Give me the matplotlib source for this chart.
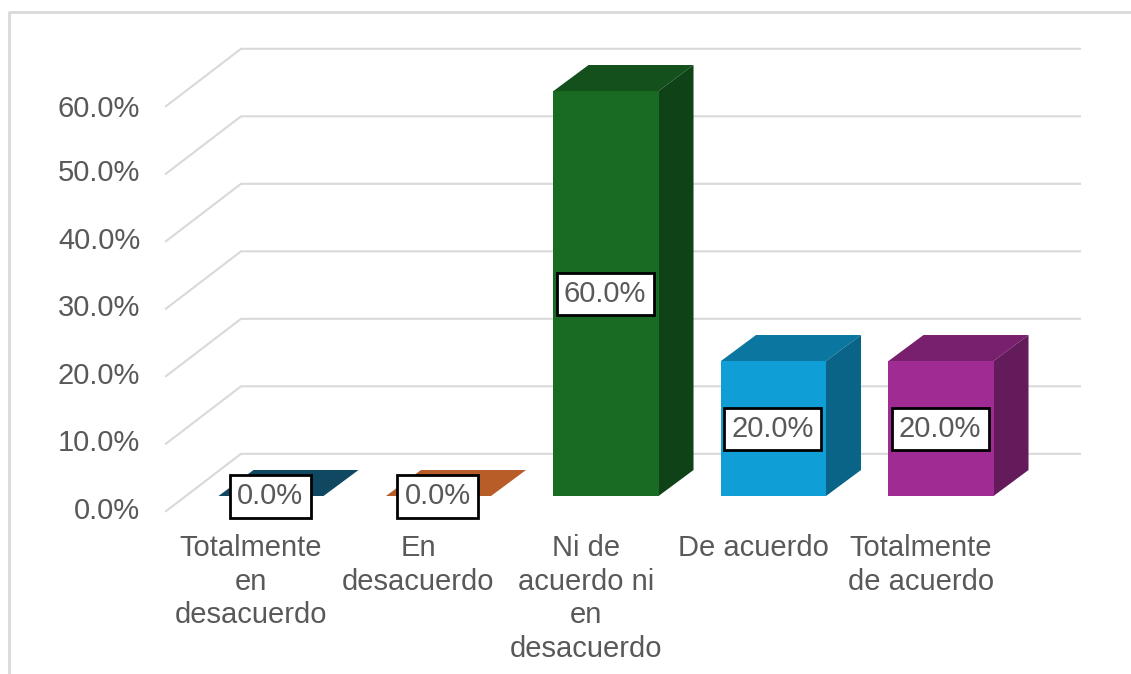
# -*- coding: utf-8 -*-
import matplotlib
matplotlib.use('Agg')
import matplotlib.pyplot as plt
from matplotlib.patches import Polygon

categorias = ['Totalmente\nen\ndesacuerdo', 'En\ndesacuerdo',
              'Ni de\nacuerdo ni\nen\ndesacuerdo', 'De acuerdo',
              'Totalmente\nde acuerdo']
valores = [0.0, 0.0, 60.0, 20.0, 20.0]
ticks = [0, 10, 20, 30, 40, 50, 60]

frente = ['#156082', '#C0622B', '#196B24', '#0F9ED5', '#A02B93']
arriba = ['#104862', '#B85C28', '#13501B', '#0B76A0', '#78206E']
lado = ['#0D3B50', '#8F4A20', '#0F4216', '#0A6488', '#641B5C']

W, H = 1131, 674
px_x = 167.5   # pixeles por categoria
px_y = 6.75    # pixeles por punto porcentual
x0, y0 = 271, 496

plt.rcParams['font.family'] = ['Liberation Sans', 'DejaVu Sans']
gris = '#595959'
letra = 21

fig = plt.figure(figsize=(W / 100, H / 100), dpi=100)
fig.patch.set_facecolor('white')
ax = fig.add_axes([0, 0, 1, 1])
ax.set_xlim(-x0 / px_x, (W - x0) / px_x)
ax.set_ylim(-(H - y0) / px_y, y0 / px_y)
ax.axis('off')

# pared del fondo
for t in ticks:
    ax.plot([-0.627, -0.179, 4.83], [t - 2.25, t + 6.25, t + 6.25],
            color='#D9D9D9', lw=1.5, zorder=1, solid_joinstyle='miter')

# barras
ancho = 0.627
dx, dy = 0.209, 3.85
for i, v in enumerate(valores):
    a, b = i - ancho / 2, i + ancho / 2
    ax.add_patch(Polygon([(a, v), (b, v), (b + dx, v + dy), (a + dx, v + dy)],
                         fc=arriba[i], ec='none', zorder=2))
    if v > 0:
        ax.add_patch(Polygon([(b, 0), (b + dx, dy), (b + dx, v + dy), (b, v)],
                             fc=lado[i], ec='none', zorder=2))
        ax.add_patch(Polygon([(a, 0), (b, 0), (b, v), (a, v)],
                             fc=frente[i], ec='none', zorder=2))
    ax.text(i - 0.005, v / 2 - 0.05, '%.1f%%' % v, ha='center', va='center',
            fontsize=letra, color=gris, zorder=4,
            bbox=dict(boxstyle='square,pad=0.25', fc='white', ec='black', lw=2))

# etiquetas de los ejes
for t in ticks:
    ax.text(-0.78, t - 2.15 - (0.55 if t == 60 else 0), '%.1f%%' % t, ha='right',
            va='center', fontsize=letra, color=gris)
for i, c in enumerate(categorias):
    ax.text(i - 0.12, -5.6, c, ha='center', va='top', fontsize=letra,
            color=gris, linespacing=1.26)

# marco
fig.add_artist(plt.Line2D([9 / W, 9 / W, 1], [0, 1 - 12 / H, 1 - 12 / H],
                          color='#D9D9D9', lw=2))

fig.savefig('out.png', dpi=100)
plt.close(fig)
